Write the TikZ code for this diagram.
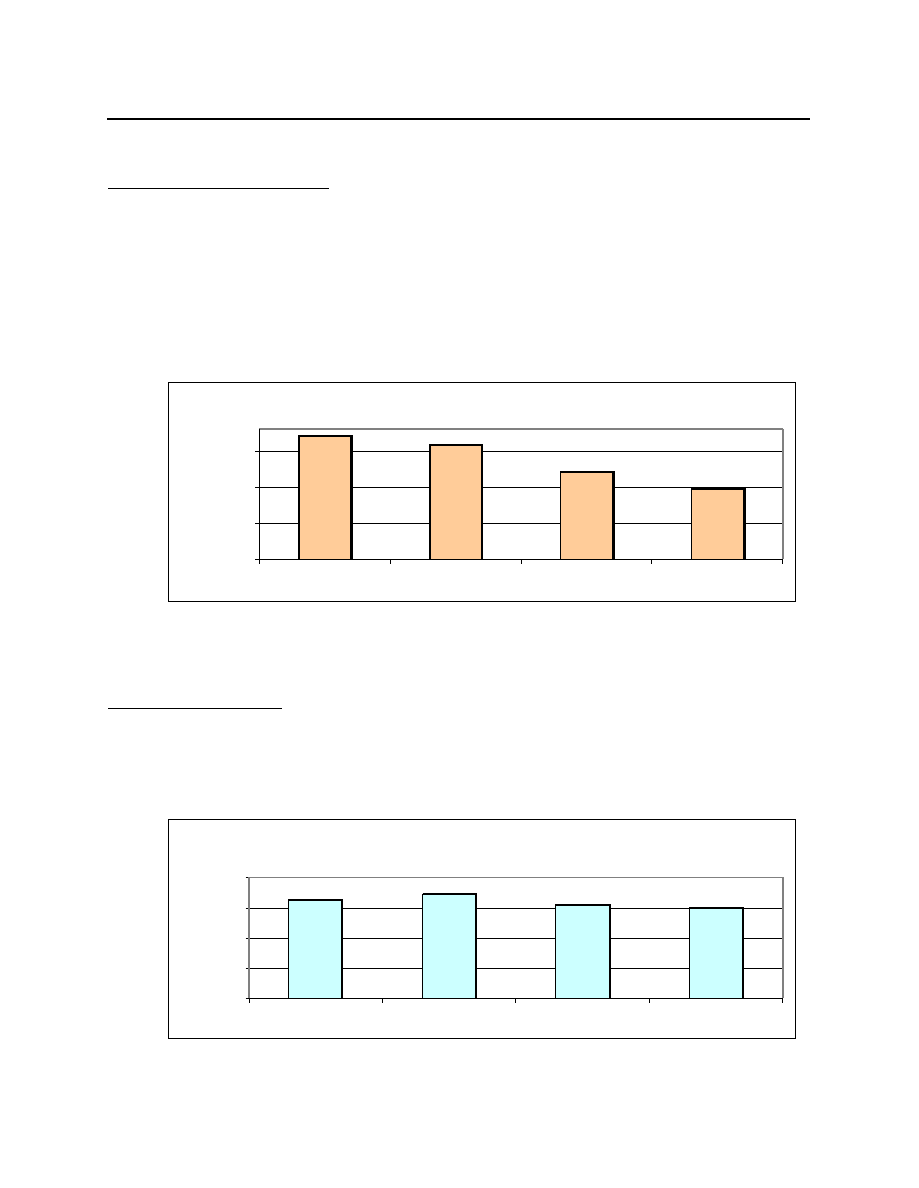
\documentclass[tikz,border=0pt]{standalone}
\usepackage{tikz}
\definecolor{barorange}{HTML}{FFCC99}
\definecolor{barcyan}{HTML}{CCFFFF}
\definecolor{plotgray}{HTML}{808080}
\tikzset{
  rule/.style={line width=1.1pt, black},
  framebox/.style={line width=1pt, black},
  grid line/.style={line width=1pt, black},
  axis line/.style={line width=1pt, black},
  plot edge/.style={line width=1.2pt, plotgray},
  plot edge thick/.style={line width=2pt, plotgray},
  tickmark/.style={line width=0.8pt, black},
  bar1/.style={fill=barorange, draw=black, line width=1.6pt},
  bar2/.style={fill=barcyan, draw=black, line width=1pt},
  baredge/.style={line width=2.4pt, black},
}
\begin{document}
\begin{tikzpicture}[x=1pt,y=-1pt]
\useasboundingbox[fill=white] (0,0) rectangle (918,1188);
% rules
\draw[rule] (107,119) -- (810,119);
\draw[rule] (108,188.3) -- (329,188.3);
\draw[rule] (108,708.3) -- (281.7,708.3);

% ---------- Chart 1 ----------
\draw[framebox] (168,382) rectangle (795,601);
\foreach \y in {451.3,487.3,523.3} \draw[grid line] (259.3,\y) -- (782.7,\y);
\draw[plot edge] (259.3,429) -- (782.7,429);
\draw[plot edge thick] (782.7,429) -- (782.7,559.3);
\foreach \y in {451.3,487.3,523.3,559.3} \draw[tickmark] (255,\y) -- (259.3,\y);
\foreach \x in {259.3,390.2,521,651.8,782.7} \draw[tickmark] (\x,559.3) -- (\x,564);
% bars
\foreach \l/\r/\t in {299/351.3/436, 430/482/445, 560.3/613.3/472, 691.3/744.3/488.3}{
  \filldraw[bar1] (\l,559.3) rectangle (\r,\t);
  \draw[baredge] (\l,\t) -- (\r,\t) -- (\r,559.3);
}
\draw[axis line] (259.3,429) -- (259.3,559.3) -- (782.7,559.3);

% ---------- Chart 2 ----------
\draw[framebox] (168,819.3) rectangle (795.3,1038);
\foreach \y in {908.3,938.3,968.3} \draw[grid line] (249,\y) -- (782.7,\y);
\draw[plot edge] (249,877.3) -- (782.7,877.3);
\draw[plot edge thick] (782.7,877.3) -- (782.7,998.3);
\foreach \y in {877.3,908.3,938.3,968.3,998.3} \draw[tickmark] (245.5,\y) -- (249,\y);
\foreach \x in {249,382.4,515.8,649.3,782.7} \draw[tickmark] (\x,998.3) -- (\x,1003);
% bars
\foreach \l/\r/\t in {288.7/342/899.7, 422.7/476/894.3, 555.7/609.7/904.7, 689.3/743/907.7}{
  \filldraw[bar2] (\l,998.3) rectangle (\r,\t);
  \draw[baredge, line width=2pt] (\l,\t) -- (\r,\t) -- (\r,998.3);
}
\draw[plot edge thick] (249,877.3) -- (249,998.3);
\draw[axis line] (249,998.3) -- (782.7,998.3);
\end{tikzpicture}
\end{document}
